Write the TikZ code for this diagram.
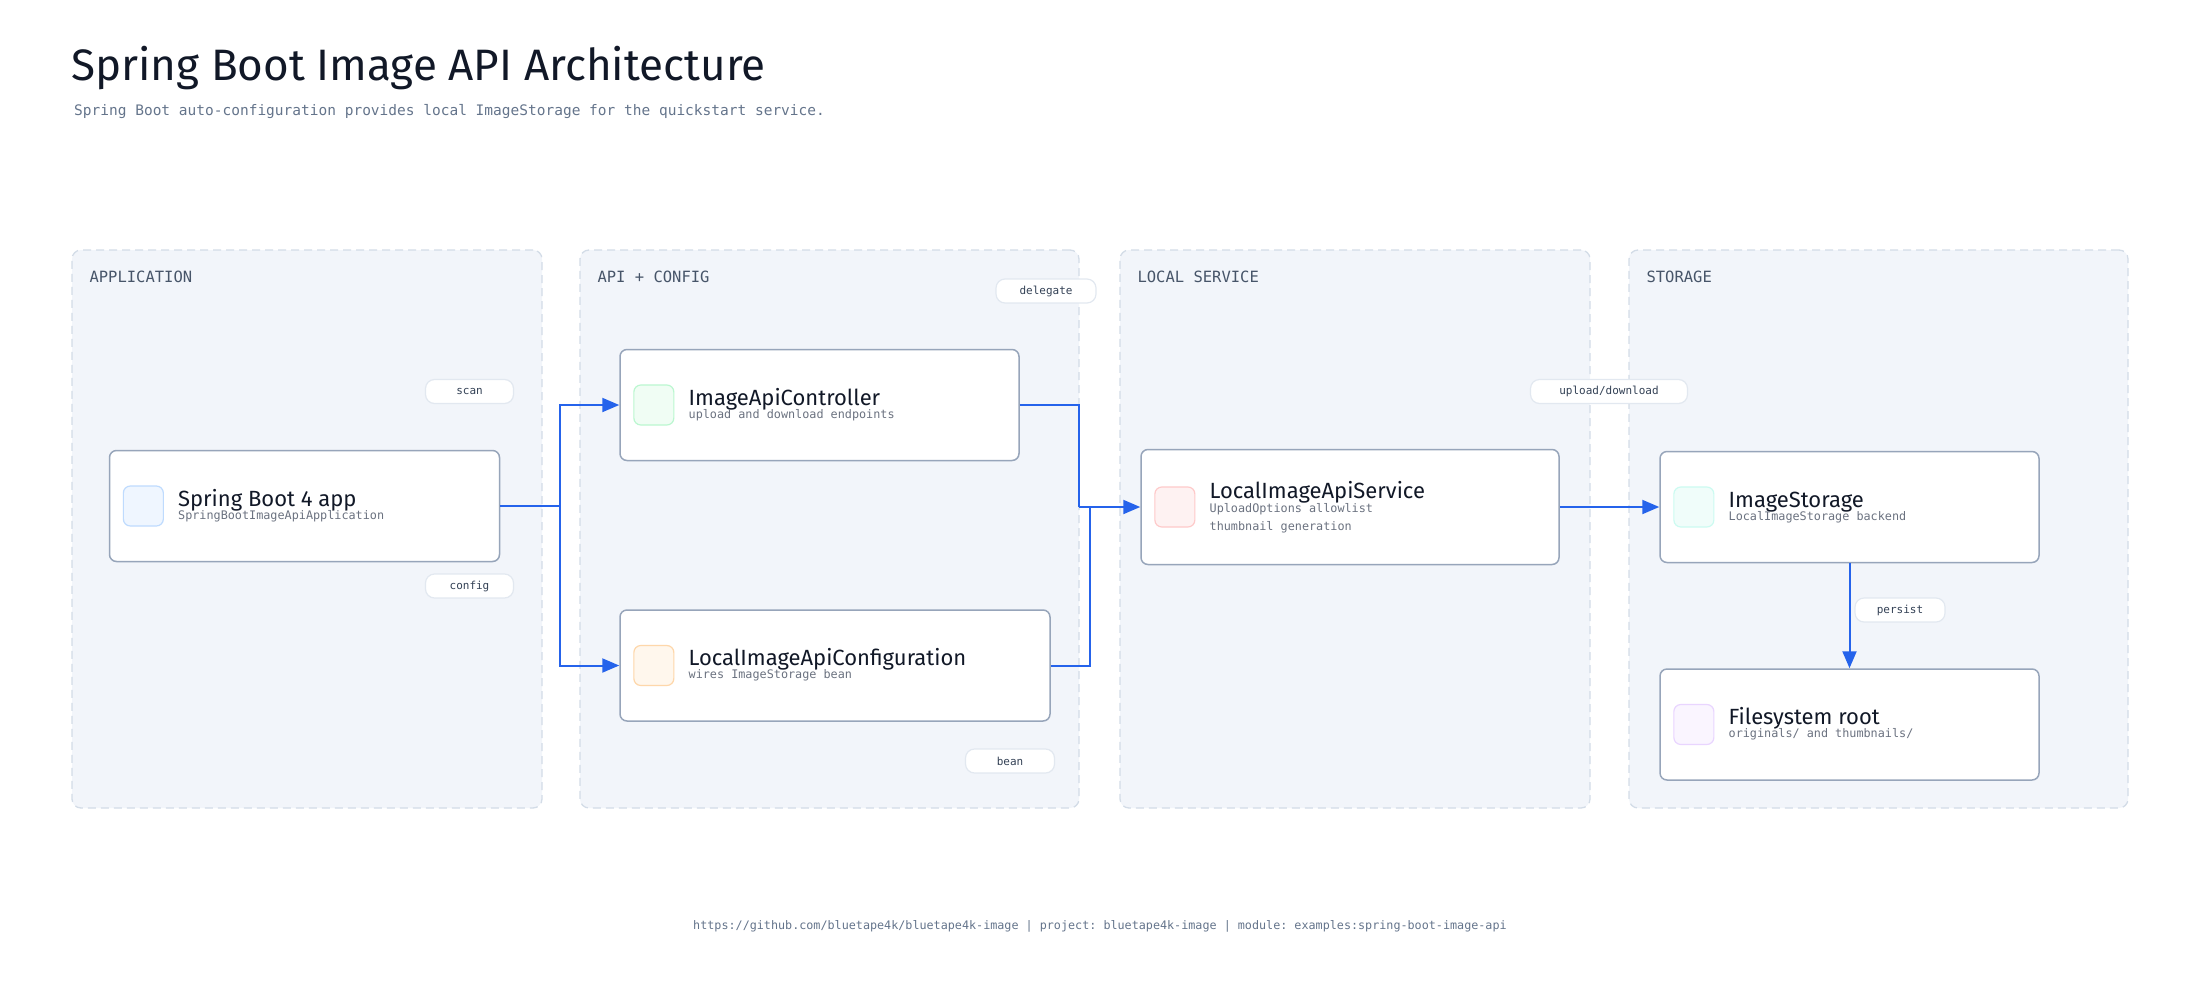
\documentclass[tikz,border=0pt]{standalone}
\usepackage{fontspec}
\setmainfont{Fira Sans}
\setmonofont{DejaVu Sans Mono}
\usetikzlibrary{arrows.meta,positioning}

\definecolor{ink}{HTML}{111827}
\definecolor{muted}{HTML}{64748B}
\definecolor{subgray}{HTML}{6B7280}
\definecolor{grplabel}{HTML}{475569}
\definecolor{grpfill}{HTML}{F2F5FA}
\definecolor{grpline}{HTML}{D3DCE7}
\definecolor{cardline}{HTML}{97A5BA}
\definecolor{flowblue}{HTML}{2563EB}
\definecolor{pillline}{HTML}{E2E8F0}
\definecolor{pilltext}{HTML}{334155}
\definecolor{blueF}{HTML}{EFF6FF}\definecolor{blueD}{HTML}{BFDBFE}
\definecolor{greenF}{HTML}{F0FDF4}\definecolor{greenD}{HTML}{BBF7D0}
\definecolor{orangeF}{HTML}{FFF7ED}\definecolor{orangeD}{HTML}{FED7AA}
\definecolor{redF}{HTML}{FEF2F2}\definecolor{redD}{HTML}{FECACA}
\definecolor{tealF}{HTML}{F0FDFA}\definecolor{tealD}{HTML}{CCFBF1}
\definecolor{purpleF}{HTML}{FAF5FF}\definecolor{purpleD}{HTML}{E9D5FF}

\begin{document}
\begin{tikzpicture}[x=1pt,y=-1pt]
  \tikzstyle{group}=[draw=grpline,fill=grpfill,dash pattern=on 8pt off 5pt,line width=1.3pt,rounded corners=9pt,minimum height=558pt]
  \tikzstyle{glabel}=[anchor=base west,inner sep=0pt,text=grplabel,font=\ttfamily\fontsize{15.5}{18}\selectfont]
  \tikzstyle{card}=[draw=cardline,fill=white,line width=1.5pt,rounded corners=7pt,minimum height=111pt]
  \tikzstyle{icon}=[line width=1.2pt,rounded corners=7pt,minimum size=40pt,inner sep=0pt]
  \tikzstyle{ctitle}=[anchor=base west,inner sep=0pt,text=ink,font=\fontsize{22}{25}\selectfont]
  \tikzstyle{csub}=[anchor=base west,inner sep=0pt,text=subgray,font=\ttfamily\fontsize{11.8}{14}\selectfont]
  \tikzstyle{pill}=[draw=pillline,fill=white,line width=1.2pt,rounded corners=9pt,minimum height=24pt,minimum width=88pt,inner sep=0pt,text=pilltext,font=\ttfamily\fontsize{11}{13}\selectfont]
  \tikzstyle{flow}=[draw=flowblue,line width=2pt,-{Triangle[length=17pt,width=14pt]}]
  \tikzstyle{wire}=[draw=flowblue,line width=2pt]

  \useasboundingbox (0,0) rectangle (2200,980);

  % heading
  \node[anchor=base west,inner sep=0pt,text=ink,font=\fontsize{44}{50}\selectfont] (title) at (71,80) {Spring Boot Image API Architecture};
  \node[anchor=base west,inner sep=0pt,text=muted,font=\ttfamily\fontsize{14.5}{17}\selectfont] (subtitle) at (74,115) {Spring Boot auto-configuration provides local ImageStorage for the quickstart service.};

  % groups
  \node[group,minimum width=470pt] (g1) at (307,529) {};
  \node[group,minimum width=499pt] (g2) at (829.5,529) {};
  \node[group,minimum width=470pt] (g3) at (1355,529) {};
  \node[group,minimum width=499pt] (g4) at (1878.5,529) {};
  \node[glabel] (g1L) at ([xshift=18pt,yshift=-33pt]g1.north west) {APPLICATION};
  \node[glabel] (g2L) at ([xshift=18pt,yshift=-33pt]g2.north west) {API + CONFIG};
  \node[glabel] (g3L) at ([xshift=18pt,yshift=-33pt]g3.north west) {LOCAL SERVICE};
  \node[glabel] (g4L) at ([xshift=18pt,yshift=-33pt]g4.north west) {STORAGE};

  % cards
  \node[card,minimum width=390pt] (app) at (304.5,506) {};
  \node[card,minimum width=399pt] (ctrl) at (819.5,405) {};
  \node[card,minimum width=430pt] (conf) at (835,665.5) {};
  \node[card,minimum width=418pt,minimum height=115pt] (svc) at (1350,507) {};
  \node[card,minimum width=379pt] (store) at (1849.5,507) {};
  \node[card,minimum width=379pt] (fs) at (1849.5,724.5) {};

  \node[icon,fill=blueF,draw=blueD,right=14pt of app.west] (appI) {};
  \node[icon,fill=greenF,draw=greenD,right=14pt of ctrl.west] (ctrlI) {};
  \node[icon,fill=orangeF,draw=orangeD,right=14pt of conf.west] (confI) {};
  \node[icon,fill=redF,draw=redD,right=14pt of svc.west] (svcI) {};
  \node[icon,fill=tealF,draw=tealD,right=14pt of store.west] (storeI) {};
  \node[icon,fill=purpleF,draw=purpleD,right=14pt of fs.west] (fsI) {};

  \node[ctitle] (appT) at ([xshift=14pt]appI.east) {Spring Boot 4 app};
  \node[csub] (appS) at ([yshift=-13pt]appT.base west) {SpringBootImageApiApplication};
  \node[ctitle] (ctrlT) at ([xshift=14pt]ctrlI.east) {ImageApiController};
  \node[csub] (ctrlS) at ([yshift=-13pt]ctrlT.base west) {upload and download endpoints};
  \node[ctitle] (confT) at ([xshift=14pt]confI.east) {LocalImageApiConfiguration};
  \node[csub] (confS) at ([yshift=-13pt]confT.base west) {wires ImageStorage bean};
  \node[ctitle] (svcT) at ([xshift=14pt,yshift=9pt]svcI.east) {LocalImageApiService};
  \node[csub] (svcS) at ([yshift=-14pt]svcT.base west) {UploadOptions allowlist};
  \node[csub] (svcS2) at ([yshift=-18pt]svcS.base west) {thumbnail generation};
  \node[ctitle] (storeT) at ([xshift=14pt]storeI.east) {ImageStorage};
  \node[csub] (storeS) at ([yshift=-13pt]storeT.base west) {LocalImageStorage backend};
  \node[ctitle] (fsT) at ([xshift=14pt]fsI.east) {Filesystem root};
  \node[csub] (fsS) at ([yshift=-13pt]fsT.base west) {originals/ and thumbnails/};

  % connectors
  \coordinate (trunk) at (560,0);
  \coordinate (jA) at (1079,0);
  \coordinate (jB) at (1090,0);
  \draw[flow] (app.east) -- (app.east -| trunk) |- (ctrl.west);
  \draw[flow] (app.east -| trunk) |- (conf.west);
  \draw[wire] (ctrl.east) -| (svc.west -| jA);
  \draw[wire] (conf.east) -| (svc.west -| jB);
  \draw[flow] (svc.west -| jA) -- (svc.west);
  \draw[flow] (svc.east) -- (store.west);
  \draw[flow] (store.south) -- (fs.north);

  % edge labels
  \node[pill] (scanL) at (469.5,391.5) {scan};
  \node[pill] (configL) at (469.5,586) {config};
  \node[pill,minimum width=100pt] (delegateL) at (1046,291) {delegate};
  \node[pill,minimum width=89pt] (beanL) at (1010,761) {bean};
  \node[pill,minimum width=157pt] (updownL) at (1609,391.5) {upload/download};
  \node[pill,minimum width=90pt] (persistL) at (1900,610) {persist};

  % footer
  \node[text=muted,font=\ttfamily\fontsize{11.75}{14}\selectfont] (footer) at (1100,926) {https://github.com/bluetape4k/bluetape4k-image | project: bluetape4k-image | module: examples:spring-boot-image-api};
\end{tikzpicture}
\end{document}
